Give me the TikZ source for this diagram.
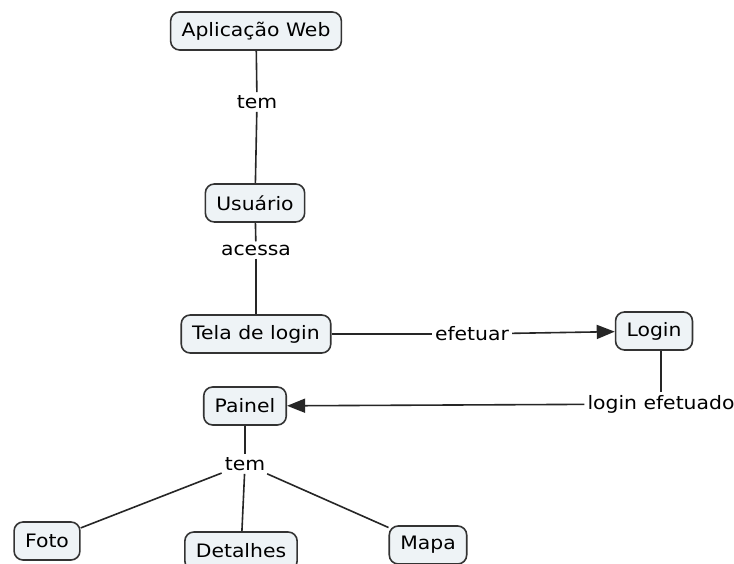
\documentclass[tikz,border=0pt]{standalone}
\usepackage{fontspec}
\setmainfont{DejaVu Sans}[FakeStretch=1.1]
\usetikzlibrary{arrows.meta}
\definecolor{boxfill}{HTML}{EEF3F6}
\definecolor{boxline}{HTML}{333333}
\begin{document}
\begin{tikzpicture}[x=1pt,y=1pt,
  concept/.style={draw=boxline,line width=1.6pt,fill=boxfill,rounded corners=9pt,
    inner xsep=11pt,minimum height=38pt,font=\fontsize{18.5}{22}\selectfont},
  linklab/.style={inner sep=3pt,font=\fontsize{18.5}{22}\selectfont},
  conn/.style={draw=black!85,line width=1.6pt},
  arr/.style={conn,-{Triangle[length=18pt,width=14pt]}}]
\useasboundingbox (0,0) rectangle (734,563);
\fill[white] (0,0) rectangle (734,563);
% concepts (y = 563 - image y)
\node[concept] (web) at (256,532) {Aplicação Web};
\node[concept] (usu) at (255,360) {Usuário};
\node[concept] (tela) at (256,229) {Tela de login};
\node[concept] (login) at (654,232) {Login};
\node[concept] (painel) at (245,157) {Painel};
\node[concept] (foto) at (47,22) {Foto};
\node[concept] (det) at (241,12) {Detalhes};
\node[concept] (mapa) at (428,18) {Mapa};
% link labels
\node[linklab] (tem1) at (257,461) {tem};
\node[linklab] (acessa) at (256,313) {acessa};
\node[linklab] (efetuar) at (472,229) {efetuar};
\node[linklab] (lefet) at (661,159) {login efetuado};
\node[linklab] (tem2) at (245,99) {tem};
% connectors
\draw[conn] (web) -- (tem1);
\draw[conn] (tem1) -- (usu);
\draw[conn] (usu) -- (acessa);
\draw[conn] (acessa) -- (tela);
\draw[conn] (tela) -- (efetuar);
\draw[arr] (efetuar) -- (login);
\draw[conn] (lefet) -- (lefet |- login.south);
\draw[arr] (lefet) -- (painel);
\draw[conn] (painel) -- (tem2);
\draw[conn] (tem2) -- (foto);
\draw[conn] (tem2) -- (det);
\draw[conn] (tem2) -- (mapa);
\end{tikzpicture}
\end{document}
